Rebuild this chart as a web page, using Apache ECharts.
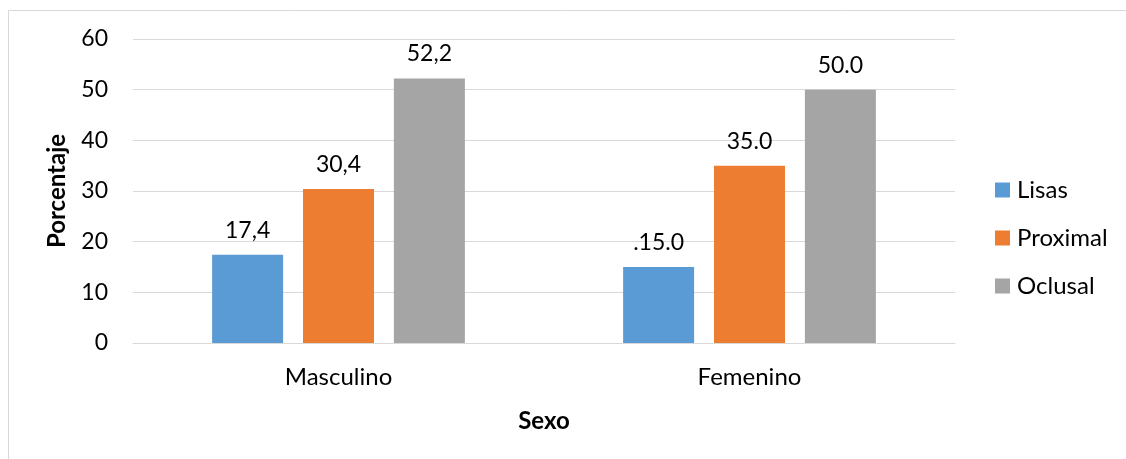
<!DOCTYPE html>
<html>
<head>
<meta charset="utf-8">
<script src="https://cdn.jsdelivr.net/npm/echarts@6/dist/echarts.min.js"></script>
<style>
  html, body { margin: 0; padding: 0; background: #fff; }
  #chart { width: 1126px; height: 459px; }
</style>
</head>
<body>
<div id="chart"></div>
<script>
// Caries distribution by surface type and sex (percent)
const categories = ['Masculino', 'Femenino'];
const seriesNames = ['Lisas', 'Proximal', 'Oclusal'];
const lisas = [17.4, 15.0];
const proximal = [30.4, 35.0];
const oclusal = [52.2, 50.0];
const lisasLabels = ['17,4', '.15.0'];
const proximalLabels = ['30,4', '35.0'];
const oclusalLabels = ['52,2', '50.0'];
const yTicks = [0, 10, 20, 30, 40, 50, 60];

const colors = ['#5B9BD5', '#ED7D31', '#A5A5A5'];
const FONT = 'Lato, "Open Sans", sans-serif';
const FS = 24;

function barSeries(name, values, labels, color) {
  return {
    name: name,
    type: 'bar',
    data: values,
    barWidth: 71,
    barGap: '28%',
    itemStyle: { color: color },
    label: {
      show: true,
      position: 'top',
      distance: 13,
      fontFamily: FONT,
      fontSize: 23,
      color: '#000',
      formatter: (p) => labels[p.dataIndex]
    }
  };
}

const chart = echarts.init(document.getElementById('chart'), null, { renderer: 'canvas' });
chart.setOption({
  animation: false,
  backgroundColor: '#fff',
  color: colors,
  graphic: [{
    type: 'rect',
    shape: { x: 8.5, y: 10.5, width: 1200, height: 600 },
    style: { fill: 'none', stroke: '#D9D9D9', lineWidth: 1 },
    silent: true,
    z: -10
  }],
  grid: { left: 133, right: 171, top: 39, bottom: 116, containLabel: false },
  legend: {
    orient: 'vertical',
    left: 995,
    top: 178,
    padding: 0,
    icon: 'rect',
    itemWidth: 15,
    itemHeight: 15,
    itemGap: 24,
    textStyle: { fontFamily: FONT, fontSize: FS, color: '#000', padding: [0, 0, 0, 2] },
    data: seriesNames
  },
  xAxis: {
    type: 'category',
    data: categories,
    name: 'Sexo',
    nameLocation: 'middle',
    nameGap: 66,
    nameTextStyle: { fontFamily: FONT, fontSize: FS, fontWeight: 'bold', color: '#000' },
    axisLine: { lineStyle: { color: '#D9D9D9', width: 1 } },
    axisTick: { show: false },
    axisLabel: { fontFamily: FONT, fontSize: FS, color: '#000', margin: 22 }
  },
  yAxis: {
    type: 'value',
    min: yTicks[0],
    max: yTicks[yTicks.length - 1],
    interval: 10,
    name: 'Porcentaje',
    nameLocation: 'middle',
    nameGap: 64,
    nameRotate: 90,
    nameTextStyle: { fontFamily: FONT, fontSize: FS, fontWeight: 'bold', color: '#000' },
    axisLine: { show: false },
    axisTick: { show: false },
    axisLabel: { fontFamily: FONT, fontSize: 23, color: '#000', margin: 25 },
    splitLine: { lineStyle: { color: '#D9D9D9', width: 1 } }
  },
  series: [
    barSeries(seriesNames[0], lisas, lisasLabels, colors[0]),
    barSeries(seriesNames[1], proximal, proximalLabels, colors[1]),
    barSeries(seriesNames[2], oclusal, oclusalLabels, colors[2])
  ]
});
</script>
</body>
</html>
